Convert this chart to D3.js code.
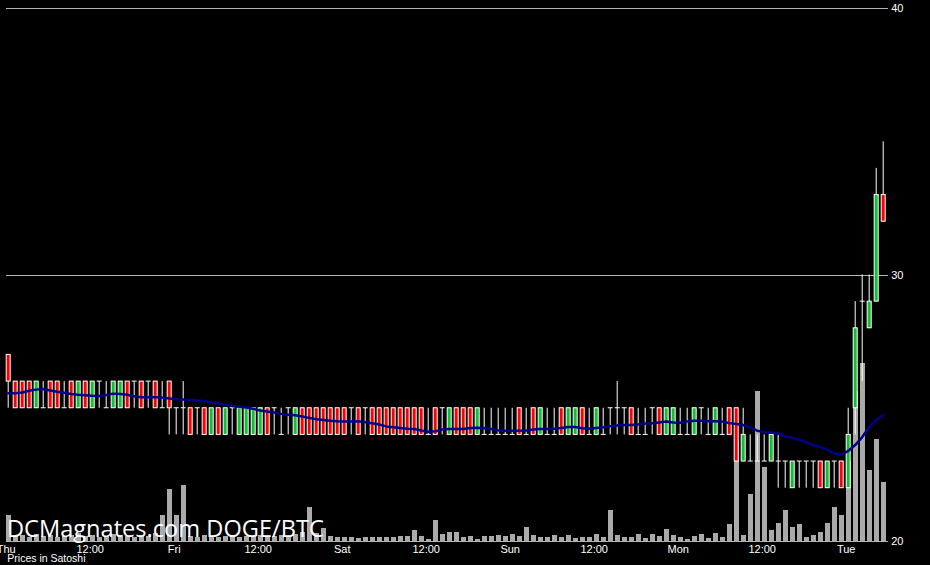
<!DOCTYPE html>
<html><head><meta charset="utf-8">
<script src="https://cdn.jsdelivr.net/npm/d3@7"></script>
<style>html,body{margin:0;padding:0;background:#000;overflow:hidden}</style>
</head><body><svg id="c" width="930" height="565"></svg>
<script>
// ---- data (hourly DOGE/BTC candles, prices in satoshi) ----
const startTime = new Date(2015, 0, 1, 0, 0); // Thursday 00:00
const opens = [
27,26,26,26,25,25,26,26,25,26, 25,26,25,26,25,25,25,26,26,26,
26,26,25,26,25,25,25,25,25,24, 25,24,25,24,24,24,24,25,25,24,
25,24,25,25,25,25,25,25,25,25, 25,25,25,25,25,25,25,25,25,25,
24,25,25,24,25,25,25,24,24,24, 24,24,24,25,24,25,24,24,24,25,
24,24,25,24,24,24,25,25,25,25, 24,24,25,25,24,24,24,24,24,25,
24,24,24,25,25,23,23,23,23,23, 23,23,22,23,23,23,23,22,23,23,
22,25,29,28,29,33];
const closes = [
26,25,25,25,26,25,25,25,25,25, 26,25,26,26,25,26,26,25,26,25,
26,25,25,25,25,25,24,25,24,25, 24,25,25,25,25,25,25,24,25,24,
25,25,24,24,24,24,24,24,24,25, 24,25,24,24,24,24,24,24,24,24,
24,24,25,25,24,24,24,25,24,24, 24,24,24,24,24,24,25,24,24,24,
25,25,24,24,25,24,25,25,25,24, 24,24,25,24,25,25,24,24,25,25,
24,25,24,24,23,24,23,23,23,24, 23,23,23,23,23,23,22,23,23,22,
24,28,29,29,33,32];
const highs = [
27,26,26,26,26,26,26,26,26,26, 26,26,26,26,26,26,26,26,26,26,
26,26,26,26,25,26,25,25,25,25, 25,25,25,25,25,25,25,25,25,25,
25,25,25,25,25,25,25,25,25,25, 25,25,25,25,25,25,25,25,25,25,
25,25,25,25,25,25,25,25,25,25, 25,25,25,25,25,25,25,25,25,25,
25,25,25,25,25,25,25,26,25,25, 25,25,25,25,25,25,25,25,25,25,
25,25,25,25,25,25,24,24,24,24, 24,23,23,23,23,23,23,23,23,23,
25,29,30,30,34,35];
const lows = [
25,25,25,25,25,25,25,25,25,25, 25,25,25,25,25,25,25,25,25,25,
25,25,25,24,24,24,24,24,24,24, 24,24,24,24,24,24,24,24,24,24,
24,24,24,24,24,24,24,24,24,24, 24,24,24,24,24,24,24,24,24,24,
24,24,24,24,24,24,24,24,24,24, 24,24,24,24,24,24,24,24,24,24,
24,24,24,24,24,24,24,24,24,24, 24,24,24,24,24,24,24,24,24,24,
24,24,24,24,23,23,23,23,23,23, 22,22,22,22,22,22,22,22,22,22,
22,24,26,28,29,32];
const volumes = [
26,5,6,4,7,5,6,4,5,6, 8,5,6,4,5,7,6,5,4,6,
5,8,26,52,26,56,5,4,6,5, 4,5,6,4,5,5,6,4,5,6,
5,7,9,34,8,13,5,4,4,4, 3,4,4,4,4,4,5,5,11,5,
2,21,7,9,9,4,5,2,5,5, 6,5,7,5,14,6,4,4,6,4,
6,3,4,4,7,4,31,6,4,4, 7,3,7,5,12,6,4,2,5,7,
3,8,4,17,100,6,47,150,74,11, 18,31,14,17,4,6,9,18,34,26,
80,150,178,71,102,59];
const movingAvg = [
25.54,25.54,25.57,25.64,25.68,25.70,25.65,25.60,25.56,25.52,
25.49,25.47,25.45,25.44,25.48,25.53,25.52,25.49,25.43,25.39,
25.39,25.39,25.38,25.35,25.32,25.31,25.29,25.27,25.25,25.20,
25.16,25.12,25.07,25.04,25.01,24.96,24.90,24.86,24.82,24.77,
24.74,24.72,24.67,24.62,24.57,24.54,24.51,24.49,24.48,24.48,
24.49,24.46,24.42,24.37,24.30,24.27,24.24,24.21,24.20,24.15,
24.10,24.12,24.18,24.20,24.20,24.20,24.24,24.25,24.23,24.20,
24.16,24.14,24.14,24.14,24.15,24.18,24.20,24.20,24.21,24.24,
24.28,24.28,24.23,24.21,24.24,24.27,24.31,24.33,24.35,24.35,
24.37,24.41,24.42,24.45,24.48,24.45,24.44,24.48,24.51,24.51,
24.49,24.49,24.48,24.43,24.39,24.35,24.26,24.14,24.09,24.07,
24.03,23.93,23.87,23.80,23.71,23.60,23.53,23.43,23.28,23.23,
23.38,23.60,23.90,24.28,24.54,24.73];
const yTicks = [20, 30, 40];
const xTickLabels = ["Thu","12:00","Fri","12:00","Sat","12:00","Sun","12:00","Mon","12:00","Tue"];
const watermark = "DCMagnates.com DOGE/BTC";
const unitsLabel = "Prices in Satoshi";

// ---- build ----
const candles = opens.map((o, i) => ({
  t: d3.timeHour.offset(startTime, i),
  o, c: closes[i], h: highs[i], l: lows[i], v: volumes[i], ma: movingAvg[i]
}));

const svg = d3.select("#c");
svg.append("rect").attr("width", 930).attr("height", 565).attr("fill", "#000");

const x = d3.scaleTime()
  .domain([startTime, d3.timeHour.offset(startTime, candles.length)])
  .range([5.7, 887.7]);
const y = d3.scaleLinear().domain([20, 40]).range([541, 8]);
const yVol = d3.scaleLinear().domain([0, 200]).range([541, 341]);

const step = x(d3.timeHour.offset(startTime, 1)) - x(startTime);
const bodyW = step * 5 / 7;
const cx = d => x(d.t) + bodyW / 2;

// grid + right axis
const yAxis = d3.axisRight(y).tickValues(yTicks).tickSize(-(x.range()[1] - x.range()[0])).tickPadding(3.5);
const gy = svg.append("g").attr("transform", `translate(${x.range()[1]},0)`).call(yAxis);
gy.select(".domain").remove();
gy.selectAll("line").attr("stroke", "#b4b4b4").attr("shape-rendering", "crispEdges");
gy.selectAll("text").attr("fill", "#fff").attr("font-family", "Liberation Sans, Arial, sans-serif").attr("font-size", 11);

// volume bars
svg.append("g").selectAll("rect").data(candles).join("rect")
  .attr("x", d => x(d.t)).attr("width", bodyW)
  .attr("y", d => yVol(d.v)).attr("height", d => yVol(0) - yVol(d.v))
  .attr("fill", "#aaaaaa").attr("shape-rendering", "crispEdges");

// x axis labels
const xTickVals = xTickLabels.map((_, i) => d3.timeHour.offset(startTime, 12 * i));
const xAxis = d3.axisBottom(x).tickValues(xTickVals).tickSize(0).tickPadding(4.2)
  .tickFormat((d, i) => xTickLabels[i]);
const gx = svg.append("g").attr("transform", `translate(0,${y(20)})`).call(xAxis);
gx.select(".domain").remove();
gx.selectAll("text").attr("fill", "#fff").attr("font-family", "Liberation Sans, Arial, sans-serif").attr("font-size", 11);

// candles
const gc = svg.append("g");
gc.selectAll("line.wick").data(candles).join("line").attr("class", "wick")
  .attr("x1", cx).attr("x2", cx)
  .attr("y1", d => y(d.h)).attr("y2", d => y(d.l))
  .attr("stroke", "#fff").attr("stroke-width", 1);
gc.selectAll("line.doji").data(candles.filter(d => d.o === d.c)).join("line").attr("class", "doji")
  .attr("x1", d => x(d.t)).attr("x2", d => x(d.t) + bodyW)
  .attr("y1", d => y(d.o)).attr("y2", d => y(d.o))
  .attr("stroke", "#fff").attr("stroke-width", 1);
gc.selectAll("rect").data(candles.filter(d => d.o !== d.c)).join("rect")
  .attr("x", d => x(d.t) + 0.5).attr("width", bodyW - 1)
  .attr("y", d => y(Math.max(d.o, d.c))).attr("height", d => Math.abs(y(d.o) - y(d.c)))
  .attr("fill", d => d.c > d.o ? "#10c030" : "#ff0000")
  .attr("stroke", "#fff").attr("stroke-width", 1);

// moving average
svg.append("path").datum(candles)
  .attr("d", d3.line().x(cx).y(d => y(d.ma)).curve(d3.curveLinear))
  .attr("fill", "none").attr("stroke", "#00008b").attr("stroke-width", 2.5)
  .attr("stroke-linejoin", "round").attr("stroke-linecap", "round");

// texts
svg.append("text").attr("x", 7).attr("y", 537).text(watermark)
  .attr("fill", "#fff").attr("font-family", "Open Sans, sans-serif").attr("font-size", 23.6);
svg.append("text").attr("x", 7.3).attr("y", 561.5).text(unitsLabel)
  .attr("fill", "#fff").attr("font-family", "Liberation Sans, Arial, sans-serif").attr("font-size", 10.5);
</script>
</body></html>
